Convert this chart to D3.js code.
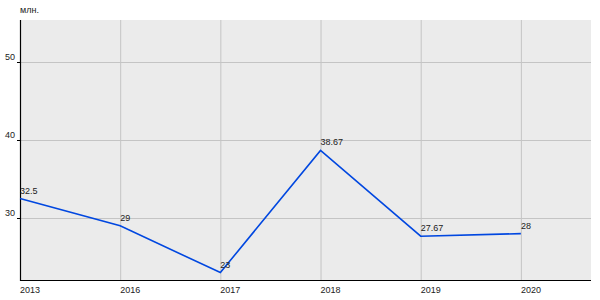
<!DOCTYPE html>
<html>
<head>
<meta charset="UTF-8">
<style>
  body { margin: 0; background: #fff; }
  text { font-family: "Liberation Sans", Arial, sans-serif; font-size: 9px; fill: #222; }
</style>
</head>
<body>
<div id="chart"></div>
<script src="https://d3js.org/d3.v7.min.js"></script>
<script>
// data
const years = ["2013", "2016", "2017", "2018", "2019", "2020"];
const values = [32.5, 29, 23, 38.67, 27.67, 28];
const valueLabels = ["32.5", "29", "23", "38.67", "27.67", "28"];
const yTicks = [30, 40, 50];
const unitLabel = "млн.";

const W = 600, H = 300;
const margin = { top: 20, right: 9, bottom: 20, left: 20 };

const svg = d3.select("#chart").append("svg")
    .attr("width", W).attr("height", H);

// x: one slot per year, last one leaves a gap on the right
const x = d3.scaleLinear()
    .domain([0, 5.7])
    .range([margin.left, W - margin.right]);

const y = d3.scaleLinear()
    .domain([22.05, 55.4])
    .range([H - margin.bottom, margin.top]);

// plot background
svg.append("rect")
    .attr("x", x(0)).attr("y", y(55.4))
    .attr("width", x(5.7) - x(0))
    .attr("height", y(22.05) - y(55.4))
    .attr("fill", "#ebebeb");

// grid
svg.append("g").selectAll("line")
    .data(years)
    .join("line")
    .attr("x1", (d, i) => x(i) + 0.5).attr("x2", (d, i) => x(i) + 0.5)
    .attr("y1", y(55.4)).attr("y2", y(22.05))
    .attr("stroke", "#c4c4c4");

svg.append("g").selectAll("line")
    .data(yTicks)
    .join("line")
    .attr("x1", x(0)).attr("x2", x(5.7))
    .attr("y1", d => Math.round(y(d)) + 0.5).attr("y2", d => Math.round(y(d)) + 0.5)
    .attr("stroke", "#c4c4c4");

// axes
svg.append("line")
    .attr("x1", x(0) + 0.5).attr("x2", x(0) + 0.5)
    .attr("y1", y(55.4)).attr("y2", y(22.05) + 1)
    .attr("stroke", "#000").attr("stroke-width", 1.2);
svg.append("line")
    .attr("x1", x(0)).attr("x2", x(5.7))
    .attr("y1", y(22.05) + 0.5).attr("y2", y(22.05) + 0.5)
    .attr("stroke", "#000").attr("stroke-width", 1.2);

// y ticks + labels
const yt = svg.append("g").selectAll("g")
    .data(yTicks)
    .join("g")
    .attr("transform", d => "translate(0," + (Math.round(y(d)) + 0.5) + ")");
yt.append("line")
    .attr("x1", x(0) - 3).attr("x2", x(0))
    .attr("stroke", "#000");
yt.append("text")
    .attr("x", x(0) - 5).attr("y", -3)
    .attr("text-anchor", "end")
    .text(d => d);

// x labels
svg.append("g").selectAll("text")
    .data(years)
    .join("text")
    .attr("x", (d, i) => x(i))
    .attr("y", H - 7)
    .text(d => d);

// unit
svg.append("text")
    .attr("x", x(0)).attr("y", 13)
    .text(unitLabel);

// line
const line = d3.line()
    .x((d, i) => x(i))
    .y(d => y(d));

svg.append("path")
    .datum(values)
    .attr("d", line)
    .attr("fill", "none")
    .attr("stroke", "#0047e0")
    .attr("stroke-width", 1.6);

// value labels
svg.append("g").selectAll("text")
    .data(values)
    .join("text")
    .attr("x", (d, i) => x(i))
    .attr("y", d => y(d) - 5)
    .text((d, i) => valueLabels[i]);
</script>
</body>
</html>
